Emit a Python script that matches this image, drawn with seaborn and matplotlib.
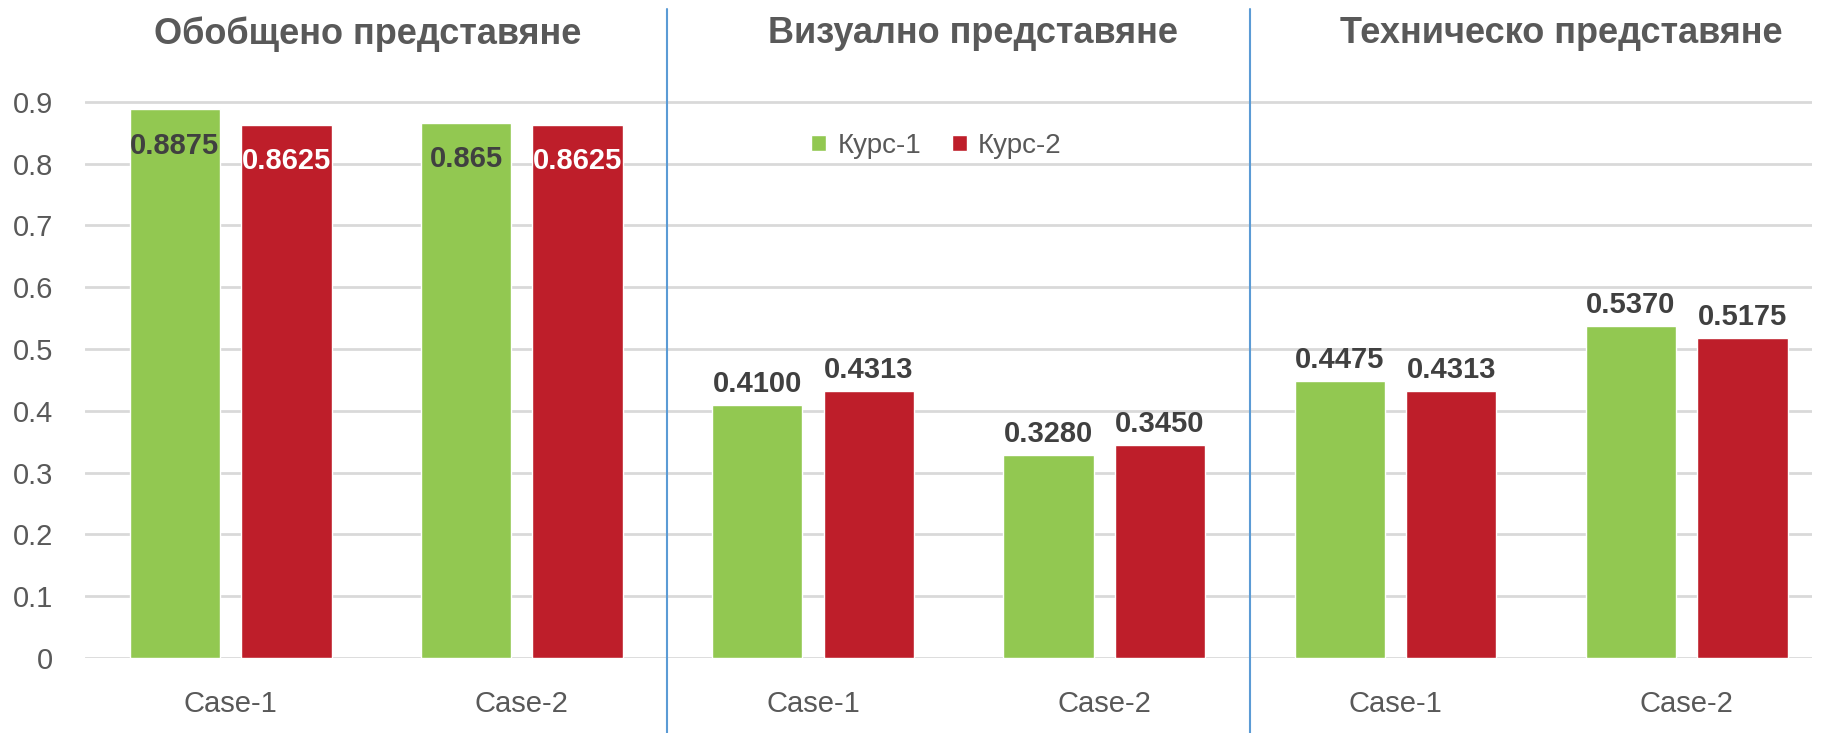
import matplotlib
matplotlib.use("Agg")
import matplotlib.pyplot as plt
import seaborn as sns
import pandas as pd

# chart data
panels = ["Обобщено представяне", "Визуално представяне", "Техническо представяне"]
cases = ["Case-1", "Case-2"]
series = ["Курс-1", "Курс-2"]
kurs1 = [0.8875, 0.865, 0.4100, 0.3280, 0.4475, 0.5370]
kurs2 = [0.8625, 0.8625, 0.4313, 0.3450, 0.4313, 0.5175]
kurs1_labels = ["0.8875", "0.865", "0.4100", "0.3280", "0.4475", "0.5370"]
kurs2_labels = ["0.8625", "0.8625", "0.4313", "0.3450", "0.4313", "0.5175"]
yticks = [0, 0.1, 0.2, 0.3, 0.4, 0.5, 0.6, 0.7, 0.8, 0.9]
ytick_labels = ["0", "0.1", "0.2", "0.3", "0.4", "0.5", "0.6", "0.7", "0.8", "0.9"]

groups = [f"{p}|{c}" for p in panels for c in cases]
df = pd.DataFrame({
    "group": groups * 2,
    "series": [series[0]] * len(groups) + [series[1]] * len(groups),
    "value": kurs1 + kurs2,
})

sns.set_theme(style="white")
plt.rcParams["font.family"] = ["Liberation Sans", "DejaVu Sans"]

GREEN = "#92c851"
RED = "#be1e2a"
TEXT = "#595959"
DARK = "#404040"

fig = plt.figure(figsize=(18.21, 7.33), dpi=100)
ax = fig.add_axes([85 / 1821, 75 / 733, (1812 - 85) / 1821, (733 - 75 - 9) / 733])

sns.barplot(data=df, x="group", y="value", hue="series", order=groups,
            hue_order=series, palette=[GREEN, RED], saturation=1,
            width=0.766, gap=0.19, ax=ax)

ax.set_ylim(0, 1.05)
ax.set_xlim(-0.5, 5.43)
ax.set_yticks(yticks)
ax.set_yticklabels(ytick_labels, fontsize=21, color=TEXT)
ax.set_xticks(range(len(groups)))
ax.set_xticklabels(cases * len(panels), fontsize=21, color=TEXT)
ax.tick_params(axis="both", length=0)
ax.tick_params(axis="y", pad=23)
ax.tick_params(axis="x", pad=23)
ax.set_xlabel("")
ax.set_ylabel("")
ax.yaxis.grid(True, color="#d9d9d9", linewidth=2)
ax.set_axisbelow(True)
for s in ax.spines.values():
    s.set_visible(False)

# value labels: inside the bars for the first panel, above them elsewhere
for ci, (cont, labs) in enumerate(zip(ax.containers, [kurs1_labels, kurs2_labels])):
    for i, (bar, lab) in enumerate(zip(cont, labs)):
        x = bar.get_x() + bar.get_width() / 2
        h = bar.get_height()
        if i < 2:
            col = DARK if ci == 0 else "white"
            ax.annotate(lab, (x, h), xytext=(0, -26), textcoords="offset points",
                        ha="center", va="center", fontsize=21, fontweight="bold", color=col)
        else:
            ax.annotate(lab, (x, h), xytext=(0, 5), textcoords="offset points",
                        ha="center", va="bottom", fontsize=21, fontweight="bold", color=DARK)

# panel titles and separators
title_x = [0.47, 2.55, 4.57]
for tx, title in zip(title_x, panels):
    ax.text(tx, 1.01, title, ha="center", va="center",
            fontsize=26, fontweight="bold", color=TEXT)
for xb in [1.5, 3.5]:
    ax.axvline(xb, ymin=-0.13, ymax=1.0, color="#5b9bd5", linewidth=1.5, clip_on=False)

leg = ax.legend(loc="center", bbox_to_anchor=(0.493, 0.789), ncol=2, frameon=False,
                handlelength=0.55, handleheight=0.55, handletextpad=0.4,
                columnspacing=1.1, fontsize=20)
for t in leg.get_texts():
    t.set_color(TEXT)

fig.savefig("out.png", dpi=100)
